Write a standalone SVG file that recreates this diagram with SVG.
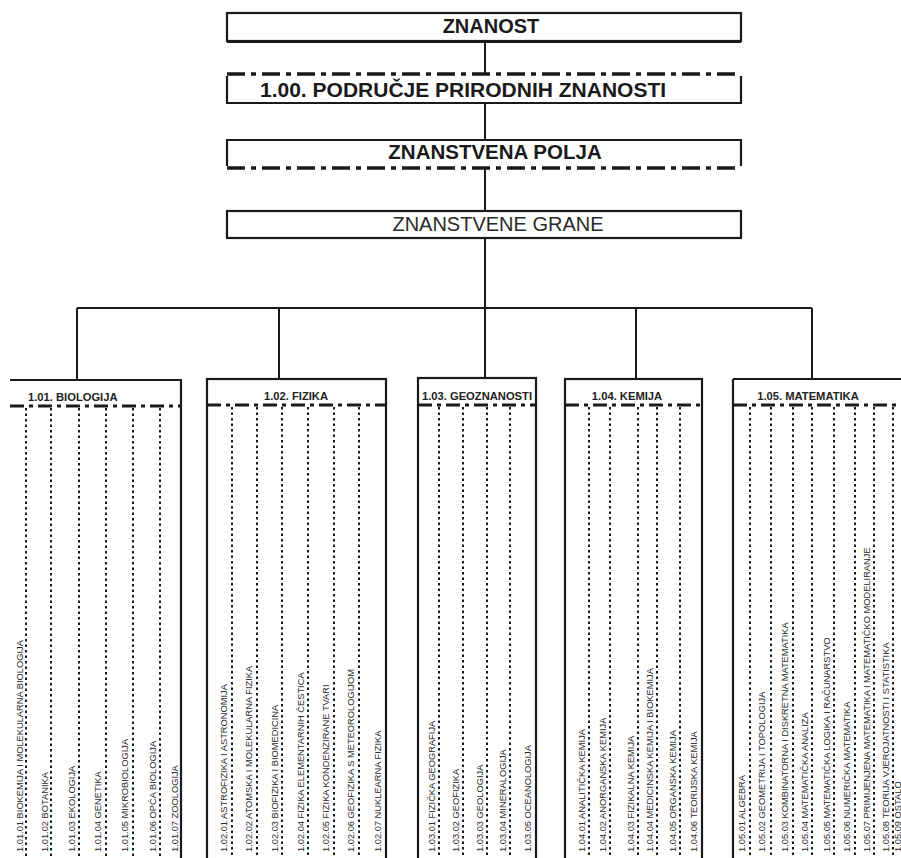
<svg xmlns="http://www.w3.org/2000/svg" width="901" height="858" viewBox="0 0 901 858">
<style>
.bg{fill:#ffffff}
.ln{stroke:#1a1a1a;stroke-width:2;fill:none}
.bx{stroke:#1a1a1a;stroke-width:2.2;fill:none}
.dd{stroke:#1a1a1a;stroke-width:3.5;fill:none;stroke-dasharray:18 6 5 6}
.hd{stroke:#1a1a1a;stroke-width:3;fill:none;stroke-dasharray:14 5 4 5}
.dt{stroke:#1a1a1a;stroke-width:2;fill:none;stroke-dasharray:2.5 3}
.t1{font-family:"Liberation Sans",Arial,sans-serif;font-weight:bold;fill:#1a1a1a}
.t2{font-family:"Liberation Sans",Arial,sans-serif;fill:#2a2a2a}
.fl{font-family:"Liberation Sans",Arial,sans-serif;font-weight:bold;font-size:11.2px;fill:#222}
.lb{font-family:"Liberation Sans",Arial,sans-serif;font-size:9.3px;fill:#2a2a2a}
</style>
<rect class="bg" x="0" y="0" width="901" height="858"/>

<g id="connectors">
<line class="ln" x1="485" y1="42" x2="485" y2="73"/>
<line class="ln" x1="485" y1="103" x2="485" y2="140"/>
<line class="ln" x1="485" y1="168" x2="485" y2="211"/>
<line class="ln" x1="485" y1="238" x2="485" y2="308"/>
<line class="ln" x1="77" y1="308" x2="812" y2="308"/>
<line class="ln" x1="77" y1="308" x2="77" y2="380"/>
<line class="ln" x1="279" y1="308" x2="279" y2="379"/>
<line class="ln" x1="485" y1="308" x2="485" y2="378"/>
<line class="ln" x1="636" y1="308" x2="636" y2="379"/>
<line class="ln" x1="812" y1="308" x2="812" y2="379"/>
</g>

<g id="znanost">
<rect class="bx" x="227" y="13" width="514" height="28"/>
<line class="ln" x1="227" y1="42" x2="741" y2="42"/>
<text class="t1" x="491" y="33" font-size="20" text-anchor="middle">ZNANOST</text>
</g>

<g id="podrucje">
<line class="dd" x1="227" y1="74" x2="741" y2="74"/>
<line class="bx" x1="227" y1="76" x2="227" y2="104"/>
<line class="bx" x1="741" y1="76" x2="741" y2="104"/>
<line class="bx" x1="226" y1="103" x2="742" y2="103"/>
<text class="t1" x="260" y="97" font-size="21">1.00. PODRUČJE PRIRODNIH ZNANOSTI</text>
</g>

<g id="polja">
<line class="bx" x1="226" y1="140" x2="742" y2="140"/>
<line class="bx" x1="227" y1="140" x2="227" y2="166"/>
<line class="bx" x1="741" y1="140" x2="741" y2="166"/>
<line class="dd" x1="227" y1="168" x2="741" y2="168"/>
<text class="t1" x="495" y="159" font-size="20.5" text-anchor="middle">ZNANSTVENA POLJA</text>
</g>

<g id="grane">
<rect class="bx" x="227" y="211" width="514" height="27"/>
<text class="t2" x="498" y="231" font-size="20" text-anchor="middle">ZNANSTVENE GRANE</text>
</g>

<g id="biologija">
<line class="bx" x1="10" y1="380" x2="182" y2="380"/>
<line class="bx" x1="181" y1="380" x2="181" y2="858"/>
<line class="hd" x1="10" y1="406" x2="181" y2="406"/>
<text class="fl" x="28" y="401">1.01. BIOLOGIJA</text>
<line class="dt" x1="26" y1="408" x2="26" y2="858"/>
<line class="dt" x1="51" y1="408" x2="51" y2="858"/>
<line class="dt" x1="79" y1="408" x2="79" y2="858"/>
<line class="dt" x1="106" y1="408" x2="106" y2="858"/>
<line class="dt" x1="133" y1="408" x2="133" y2="858"/>
<line class="dt" x1="160" y1="408" x2="160" y2="858"/>
<g class="lb">
<text transform="translate(23.3,852) rotate(-90)">1.01.01 BIOKEMIJA I MOLEKULARNA BIOLOGIJA</text>
<text transform="translate(48.3,852) rotate(-90)">1.01.02 BOTANIKA</text>
<text transform="translate(75.3,852) rotate(-90)">1.01.03 EKOLOGIJA</text>
<text transform="translate(101.3,852) rotate(-90)">1.01.04 GENETIKA</text>
<text transform="translate(128.3,852) rotate(-90)">1.01.05 MIKROBIOLOGIJA</text>
<text transform="translate(156.3,852) rotate(-90)">1.01.06 OPĆA BIOLOGIJA</text>
<text transform="translate(178.3,852) rotate(-90)">1.01.07 ZOOLOGIJA</text>
</g>
</g>

<g id="fizika">
<rect class="bx" x="207" y="379" width="179" height="490"/>
<line class="hd" x1="207" y1="405" x2="386" y2="405"/>
<text class="fl" x="296" y="400" text-anchor="middle">1.02. FIZIKA</text>
<line class="dt" x1="232" y1="407" x2="232" y2="858"/>
<line class="dt" x1="257" y1="407" x2="257" y2="858"/>
<line class="dt" x1="282" y1="407" x2="282" y2="858"/>
<line class="dt" x1="308" y1="407" x2="308" y2="858"/>
<line class="dt" x1="334" y1="407" x2="334" y2="858"/>
<line class="dt" x1="359" y1="407" x2="359" y2="858"/>
<g class="lb">
<text transform="translate(227.3,852) rotate(-90)">1.02.01 ASTROFIZIKA I ASTRONOMIJA</text>
<text transform="translate(252.3,852) rotate(-90)">1.02.02 ATOMSKA I MOLEKULARNA FIZIKA</text>
<text transform="translate(278.3,852) rotate(-90)">1.02.03 BIOFIZIKA I BIOMEDICINA</text>
<text transform="translate(304.3,852) rotate(-90)">1.02.04 FIZIKA ELEMENTARNIH ČESTICA</text>
<text transform="translate(329.3,852) rotate(-90)">1.02.05 FIZIKA KONDENZIRANE TVARI</text>
<text transform="translate(354.3,852) rotate(-90)">1.02.06 GEOFIZIKA S METEOROLOGIJOM</text>
<text transform="translate(381.3,852) rotate(-90)">1.02.07 NUKLEARNA FIZIKA</text>
</g>
</g>

<g id="geoznanosti">
<rect class="bx" x="418" y="378" width="118" height="490"/>
<line class="hd" x1="418" y1="405" x2="536" y2="405"/>
<text class="fl" x="477" y="400" text-anchor="middle">1.03. GEOZNANOSTI</text>
<line class="dt" x1="439" y1="407" x2="439" y2="858"/>
<line class="dt" x1="463" y1="407" x2="463" y2="858"/>
<line class="dt" x1="487" y1="407" x2="487" y2="858"/>
<line class="dt" x1="510" y1="407" x2="510" y2="858"/>
<g class="lb">
<text transform="translate(435.3,852) rotate(-90)">1.03.01 FIZIČKA GEOGRAFIJA</text>
<text transform="translate(459.3,852) rotate(-90)">1.03.02 GEOFIZIKA</text>
<text transform="translate(483.3,852) rotate(-90)">1.03.03 GEOLOGIJA</text>
<text transform="translate(506.3,852) rotate(-90)">1.03.04 MINERALOGIJA</text>
<text transform="translate(531.3,852) rotate(-90)">1.03.05 OCEANOLOGIJA</text>
</g>
</g>

<g id="kemija">
<rect class="bx" x="565" y="379" width="137" height="490"/>
<line class="hd" x1="565" y1="405" x2="702" y2="405"/>
<text class="fl" x="627" y="400" text-anchor="middle">1.04. KEMIJA</text>
<line class="dt" x1="589" y1="407" x2="589" y2="858"/>
<line class="dt" x1="610" y1="407" x2="610" y2="858"/>
<line class="dt" x1="638" y1="407" x2="638" y2="858"/>
<line class="dt" x1="657" y1="407" x2="657" y2="858"/>
<line class="dt" x1="680" y1="407" x2="680" y2="858"/>
<g class="lb">
<text transform="translate(585.3,852) rotate(-90)">1.04.01 ANALITIČKA KEMIJA</text>
<text transform="translate(606.3,852) rotate(-90)">1.04.02 ANORGANSKA KEMIJA</text>
<text transform="translate(634.3,852) rotate(-90)">1.04.03 FIZIKALNA KEMIJA</text>
<text transform="translate(653.3,852) rotate(-90)">1.04.04 MEDICINSKA KEMIJA I BIOKEMIJA</text>
<text transform="translate(676.3,852) rotate(-90)">1.04.05 ORGANSKA KEMIJA</text>
<text transform="translate(697.3,852) rotate(-90)">1.04.06 TEORIJSKA KEMIJA</text>
</g>
</g>

<g id="matematika">
<line class="bx" x1="733" y1="379" x2="901" y2="379"/>
<line class="bx" x1="733" y1="379" x2="733" y2="858"/>
<line class="hd" x1="733" y1="405" x2="901" y2="405"/>
<text class="fl" x="808" y="400" text-anchor="middle">1.05. MATEMATIKA</text>
<line class="dt" x1="750" y1="407" x2="750" y2="858"/>
<line class="dt" x1="771" y1="407" x2="771" y2="858"/>
<line class="dt" x1="793" y1="407" x2="793" y2="858"/>
<line class="dt" x1="812" y1="407" x2="812" y2="858"/>
<line class="dt" x1="834" y1="407" x2="834" y2="858"/>
<line class="dt" x1="855" y1="407" x2="855" y2="858"/>
<line class="dt" x1="874" y1="407" x2="874" y2="858"/>
<line class="dt" x1="893" y1="407" x2="893" y2="858"/>
<g class="lb">
<text transform="translate(745.3,852) rotate(-90)">1.05.01 ALGEBRA</text>
<text transform="translate(765.3,852) rotate(-90)">1.05.02 GEOMETRIJA I TOPOLOGIJA</text>
<text transform="translate(788.3,852) rotate(-90)">1.05.03 KOMBINATORNA I DISKRETNA MATEMATIKA</text>
<text transform="translate(808.3,852) rotate(-90)">1.05.04 MATEMATIČKA ANALIZA</text>
<text transform="translate(830.3,852) rotate(-90)">1.05.05 MATEMATIČKA LOGIKA I RAČUNARSTVO</text>
<text transform="translate(850.3,852) rotate(-90)">1.05.06 NUMERIČKA MATEMATIKA</text>
<text transform="translate(870.3,852) rotate(-90)">1.05.07 PRIMIJENJENA MATEMATIKA I MATEMATIČKO MODELIRANJE</text>
<text transform="translate(889.3,852) rotate(-90)">1.05.08 TEORIJA VJEROJATNOSTI I STATISTIKA</text>
<text transform="translate(900.5,852) rotate(-90)">1.05.09 OSTALO</text>
</g>
</g>
</svg>
